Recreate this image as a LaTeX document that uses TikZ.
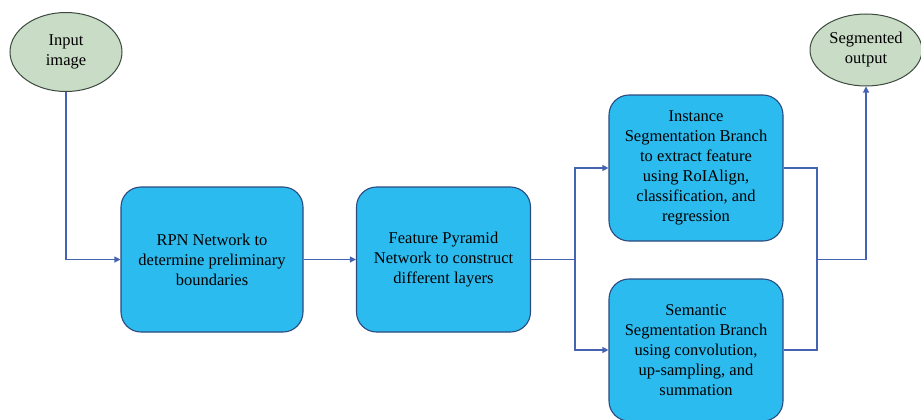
\documentclass[tikz,border=0pt]{standalone}
\usepackage{fontspec}
\setmainfont{Liberation Serif}
\usetikzlibrary{shapes.geometric,arrows.meta}
\definecolor{boxfill}{HTML}{2CBBEE}
\definecolor{boxdraw}{HTML}{2B4A80}
\definecolor{ellfill}{HTML}{C8DCC6}
\definecolor{elldraw}{HTML}{3C4A3E}
\definecolor{conn}{HTML}{4463B0}
\tikzset{
  stepbox/.style={draw=boxdraw, fill=boxfill, line width=1.1pt, rounded corners=20pt,
    minimum width=182pt, minimum height=145pt, align=center, inner sep=0pt,
    font=\fontsize{16.5}{20}\selectfont},
  term/.style={ellipse, draw=elldraw, fill=ellfill, line width=1pt, inner sep=0pt,
    minimum width=112pt, align=center, font=\fontsize{16.5}{20}\selectfont},
  link/.style={draw=conn, line width=1.1pt},
  arr/.style={link, -{Triangle[length=6pt,width=6pt]}}
}
\begin{document}
\begin{tikzpicture}[x=1pt,y=-1pt]
\useasboundingbox (0,0) rectangle (921,420);
\node[term, minimum height=79pt] (in) at (66,52) {Input\\image};
\node[term, minimum height=72pt] (out) at (866,50) {Segmented\\output};
\node[stepbox] (rpn) at (212,259.5) {RPN Network to\\determine preliminary\\boundaries};
\node[stepbox, minimum width=174pt] (fpn) at (443.5,259.5) {Feature Pyramid\\Network to construct\\different layers};
\node[stepbox, minimum width=174pt, minimum height=146pt] (inst) at (696,168) {Instance\\Segmentation Branch\\to extract feature\\using RoIAlign,\\classification, and\\regression};
\node[stepbox, minimum width=174pt, minimum height=142pt] (sem) at (696,350) {Semantic\\Segmentation Branch\\using convolution,\\up-sampling, and\\summation};
\coordinate (split) at (575,259.5);
\coordinate (merge) at (817,259.5);
\draw[arr] (in.south) |- (rpn.west);
\draw[arr] (rpn.east) -- (fpn.west);
\draw[link] (fpn.east) -- (split);
\draw[arr] (split) |- (inst.west);
\draw[arr] (split) |- (sem.west);
\draw[link] (inst.east) -| (merge);
\draw[link] (sem.east) -| (merge);
\draw[arr] (merge) -| (out.south);
\end{tikzpicture}
\end{document}
